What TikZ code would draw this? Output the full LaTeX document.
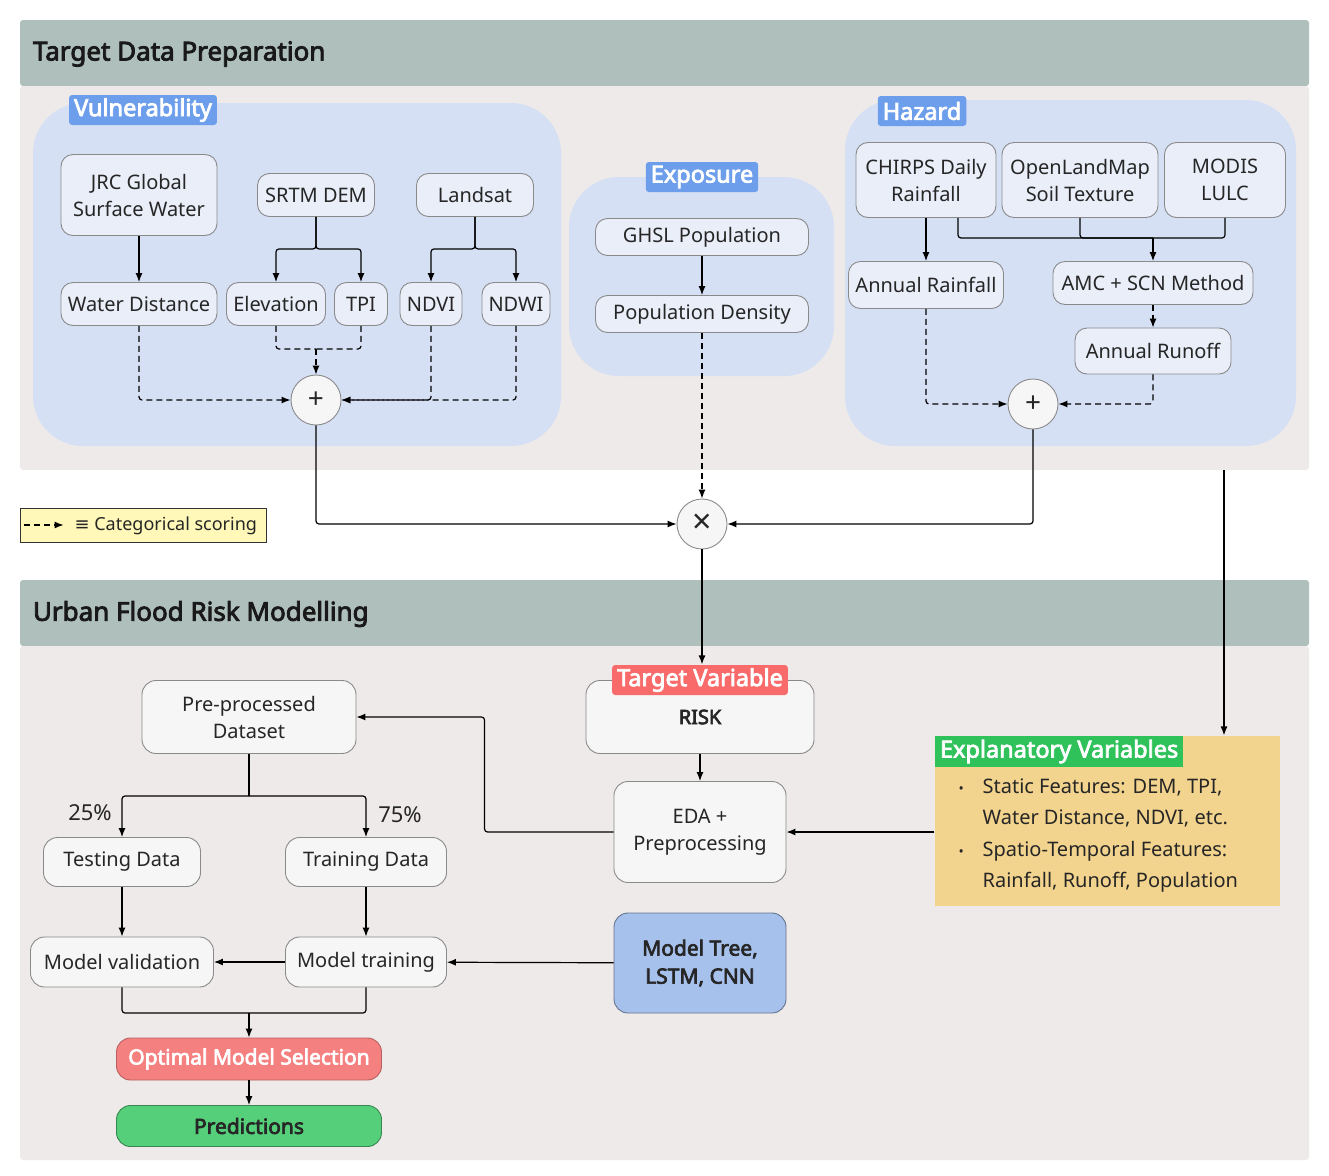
\documentclass[tikz,border=0pt]{standalone}
\usepackage{fontspec}
\setmainfont{Noto Sans}[BoldFont={Noto Sans},BoldFeatures={FakeBold=3.2}]
\newfontfamily\symfont{DejaVu Sans}
\usetikzlibrary{positioning,shapes,arrows.meta}

\definecolor{hdrgray}{HTML}{AEBFBC}
\definecolor{bandgray}{HTML}{EEEAE9}
\definecolor{grpblue}{HTML}{D6E0F4}
\definecolor{srcfill}{HTML}{EAEEF9}
\definecolor{stepfill}{HTML}{F6F6F6}
\definecolor{edgegray}{HTML}{8A8A8A}
\definecolor{tagblue}{HTML}{6D9EEB}
\definecolor{tagred}{HTML}{F96B6B}
\definecolor{taggreen}{HTML}{2FC25B}
\definecolor{explfill}{HTML}{F3D48E}
\definecolor{modelblue}{HTML}{A7C1ED}
\definecolor{optred}{HTML}{F58080}
\definecolor{predgreen}{HTML}{55CF7A}
\definecolor{legyellow}{HTML}{FFF8B8}

\begin{document}
\begin{tikzpicture}[x=1pt,y=-1pt,line width=1.2pt,>={Latex[length=9pt,width=7pt]},
    every node/.style={font=\fontsize{20}{27}\selectfont,text=black!85},
    grp/.style={fill=grpblue,draw=none,rounded corners=50pt},
    tag/.style={fill=tagblue,text=white,font=\fontsize{23.5}{26}\selectfont\bfseries,inner xsep=5pt,inner ysep=0pt,minimum height=30pt},
    src/.style={draw=edgegray,line width=0.9pt,fill=srcfill,rounded corners=12pt,align=center,inner sep=2pt},
    stepbox/.style={draw=edgegray,line width=0.9pt,fill=stepfill,rounded corners=14pt,align=center,inner sep=2pt},
    op/.style={circle,draw=edgegray,line width=0.9pt,fill=stepfill,minimum size=50pt,inner sep=0pt,font=\fontsize{28}{28}\selectfont},
    title/.style={anchor=west,font=\fontsize{26}{30}\selectfont\bfseries,text=black!90},
    scoring/.style={dash pattern=on 6pt off 4pt},
    pct/.style={font=\fontsize{22}{26}\selectfont},
    rounded corners=3pt]

    % page and bands
    \useasboundingbox (0,0) rectangle (1329,1175);
    \fill[hdrgray] (20,20) rectangle (1309,86);
    \fill[bandgray] (20,86) rectangle (1309,470);
    \fill[hdrgray] (20,580) rectangle (1309,646);
    \fill[bandgray] (20,646) rectangle (1309,1160);
    \node[title] (toptitle) at (29,54) {Target Data Preparation};
    \node[title] (bottitle) at (29,614) {Urban Flood Risk Modelling};

    % groups
    \fill[grp] (33,103) rectangle (561,446);
    \fill[grp] (569,177) rectangle (834,376);
    \fill[grp] (845,100) rectangle (1296,446);
    \node[tag] (vultag) at (143,110) {Vulnerability};
    \node[tag] (exptag) at (702,177) {Exposure};
    \node[tag] (haztag) at (922,111) {Hazard};

    % vulnerability
    \node[src,minimum width=156,minimum height=81] (jrc) at (139,195) {JRC Global\\Surface Water};
    \node[src,minimum width=117,minimum height=43] (srtm) at (316,195) {SRTM DEM};
    \node[src,minimum width=117,minimum height=43] (landsat) at (475,195) {Landsat};
    \node[src,minimum width=156,minimum height=43] (wdist) at (139,304) {Water Distance};
    \node[src,minimum width=99,minimum height=43] (elev) at (276,304) {Elevation};
    \node[src,minimum width=53,minimum height=43] (tpi) at (361,304) {TPI};
    \node[src,minimum width=62,minimum height=43] (ndvi) at (431,304) {NDVI};
    \node[src,minimum width=68,minimum height=43] (ndwi) at (516,304) {NDWI};
    \node[op] (vplus) at (316,400) {+};

    \draw[->] (jrc) -- (wdist);
    \draw[->] (srtm.south) -- ++(0,32) -| (elev.north);
    \draw[->] (srtm.south) -- ++(0,32) -| (tpi.north);
    \draw[->] (landsat.south) -- ++(0,32) -| (ndvi.north);
    \draw[->] (landsat.south) -- ++(0,32) -| (ndwi.north);
    \coordinate (vmerge) at (316,349);
    \draw[scoring] (elev.south) |- (vmerge);
    \draw[scoring] (tpi.south) |- (vmerge);
    \draw[->,scoring] (vmerge) -- (vplus.north);
    \draw[->,scoring] (wdist.south) |- (vplus.west);
    \draw[->,scoring] (ndvi.south) |- (vplus.east);
    \draw[->,scoring] (ndwi.south) |- (vplus.east);

    % exposure
    \node[src,minimum width=213,minimum height=37] (ghsl) at (702,237) {GHSL Population};
    \node[src,minimum width=213,minimum height=37] (popd) at (702,314) {Population Density};
    \draw[->] (ghsl) -- (popd);

    % hazard
    \node[src,minimum width=140,minimum height=75] (chirps) at (926,180) {CHIRPS Daily\\Rainfall};
    \node[src,minimum width=156,minimum height=75] (olm) at (1080,180) {OpenLandMap\\Soil Texture};
    \node[src,minimum width=121,minimum height=75] (modis) at (1225,180) {MODIS\\LULC};
    \node[src,minimum width=155,minimum height=47] (arain) at (926,285) {Annual Rainfall};
    \node[src,minimum width=200,minimum height=43] (amc) at (1153,283) {AMC + SCN Method};
    \node[src,minimum width=156,minimum height=46] (arunoff) at (1153,351) {Annual Runoff};
    \node[op] (hplus) at (1033,404) {+};

    \draw[->] (chirps) -- (arain);
    \coordinate (hmerge) at (1153,238);
    \draw ([xshift=32pt]chirps.south) |- (hmerge);
    \draw (olm.south) |- (hmerge);
    \draw (modis.south) |- (hmerge);
    \draw[->] (hmerge) -- (amc.north);
    \draw[->,scoring] (amc) -- (arunoff);
    \draw[->,scoring] (arain.south) |- (hplus.west);
    \draw[->,scoring] (arunoff.south) |- (hplus.east);

    % combination
    \node[op,font=\fontsize{34}{34}\selectfont] (mult) at (702,524) {×};
    \draw[->,scoring] (popd.south) -- (mult.north);
    \draw[->] (vplus.south) |- (mult.west);
    \draw[->] (hplus.south) |- (mult.east);

    % legend
    \node[draw=black!80,line width=0.9pt,fill=legyellow,minimum width=246,minimum height=34,rounded corners=0pt] (legend) at (143,525) {};
    \draw[->,scoring,line width=1.1pt] ([xshift=4pt]legend.west) -- ++(40,0);
    \node[anchor=west,font=\fontsize{18}{22}\selectfont,inner sep=0pt] (legtext) at (74,526) {{\symfont ≡} Categorical scoring};

    % modelling
    \node[stepbox,minimum width=228,minimum height=73] (risk) at (700,717) {\textbf{RISK}};
    \node[tag,fill=tagred] (risktag) at (700,680) {Target Variable};
    \draw[->] (mult.south) -- (mult.south |- risktag.north);
    \node[stepbox,minimum width=172,minimum height=101] (eda) at (700,832) {EDA +\\Preprocessing};
    \node[stepbox,minimum width=214,minimum height=73] (ppd) at (249,717) {Pre-processed\\Dataset};
    \node[stepbox,minimum width=157,minimum height=49] (test) at (122,862) {Testing Data};
    \node[stepbox,minimum width=161,minimum height=49] (train) at (366,862) {Training Data};
    \node[stepbox,minimum width=183,minimum height=50] (mval) at (122,962) {Model validation};
    \node[stepbox,minimum width=161,minimum height=50] (mtrain) at (366,962) {Model training};
    \node[stepbox,fill=modelblue,draw=modelblue!60!black,minimum width=172,minimum height=100,font=\fontsize{21}{28}\selectfont\bfseries] (models) at (700,963) {Model Tree,\\LSTM, CNN};
    \node[stepbox,fill=optred,draw=optred!75!black,minimum width=265,minimum height=42,text=white,font=\fontsize{21}{24}\selectfont\bfseries] (optsel) at (249,1059) {Optimal Model Selection};
    \node[stepbox,fill=predgreen,draw=predgreen!65!black,minimum width=265,minimum height=41,font=\fontsize{21}{24}\selectfont\bfseries] (pred) at (249,1126) {Predictions};

    % explanatory variables
    \node[fill=explfill,minimum width=345,minimum height=170,inner sep=0pt,rounded corners=0pt] (expl) at (1107.5,821) {};
    \node[tag,fill=taggreen,anchor=north west,minimum height=31pt,rounded corners=0pt] (expltag) at (expl.north west) {Explanatory Variables};
    \node[anchor=north west,align=left,inner sep=0pt,font=\fontsize{20}{31.5}\selectfont] (expltext) at (950,778)
        {\makebox[32pt][l]{\hspace{8pt}\fontsize{14}{14}\selectfont\textbullet}Static Features: DEM, TPI,\\
         \hspace*{32pt}Water Distance, NDVI, etc.\\
         \makebox[32pt][l]{\hspace{8pt}\fontsize{14}{14}\selectfont\textbullet}Spatio-Temporal Features:\\
         \hspace*{32pt}Rainfall, Runoff, Population};
    \coordinate (hazout) at (1224,470);
    \draw[->] (hazout) -- (hazout |- expl.north);

    % modelling connectors
    \draw[->] (risk) -- (eda);
    \draw[->] (eda.west) -- ++(-129,0) |- (ppd.east);
    \draw[->] (expl.west |- eda.east) -- (eda.east);
    \coordinate (pmerge) at (249,796);
    \draw (ppd.south) -- (pmerge);
    \draw[->] (pmerge) -| (test.north);
    \draw[->] (pmerge) -| (train.north);
    \node[pct] (lowpct) at (90,813) {25\%};
    \node[pct] (highpct) at (400,815) {75\%};
    \draw[->] (test) -- (mval);
    \draw[->] (train) -- (mtrain);
    \draw[->] (mtrain) -- (mval);
    \draw[->] (models) -- (mtrain);
    \coordinate (smerge) at (249,1013);
    \draw (mval.south) |- (smerge);
    \draw (mtrain.south) |- (smerge);
    \draw[->] (smerge) -- (optsel);
    \draw[->] (optsel) -- (pred);
\end{tikzpicture}
\end{document}
